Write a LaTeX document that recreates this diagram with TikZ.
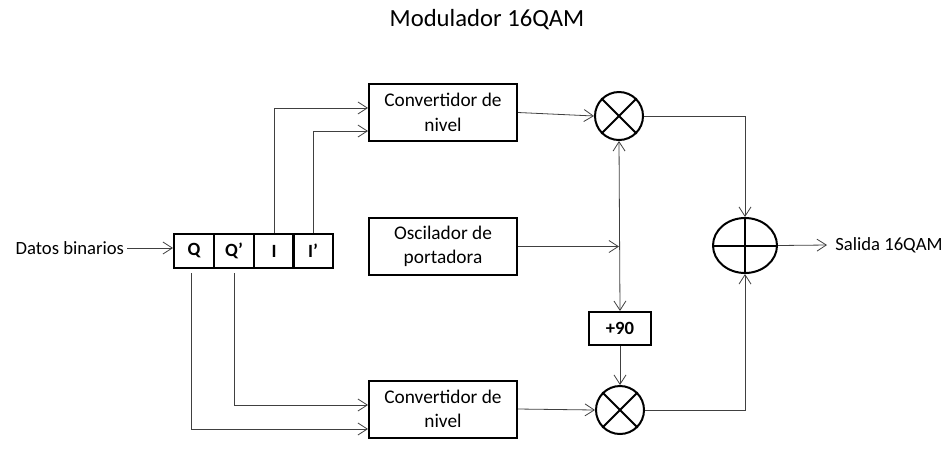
\documentclass[tikz,border=0pt]{standalone}
\usepackage{fontspec}
\setmainfont{Carlito}
\usetikzlibrary{arrows.meta,shapes.geometric}

\tikzset{
	bloque/.style={draw, line width=1.5pt, minimum width=111pt, minimum height=42.75pt, align=center, font=\fontsize{14.5}{18.5}\selectfont},
	celda/.style={draw, line width=1.5pt, minimum width=30pt, minimum height=25.5pt, font=\bfseries\fontsize{14}{16}\selectfont},
	mult/.style={draw, circle, line width=1.5pt, minimum size=36pt, inner sep=0pt},
	flecha/.style={black!75, line width=0.6pt, -{Straight Barb[length=7pt,width=9pt]}},
	doble/.style={black!75, line width=0.6pt, {Straight Barb[length=7pt,width=9pt]}-{Straight Barb[length=7pt,width=9pt]}}
}

\begin{document}
\begin{tikzpicture}[x=0.75pt, y=-0.75pt]
			\useasboundingbox (0,0) rectangle (952,455);
			\node[font=\fontsize{18.5}{22}\selectfont](titulo) at (487,20) {Modulador 16QAM};
			
			% registro de bits
			\node[celda](cQ) at (194,251) {Q};
			\node[celda](cQp) at (234,251) {Q’};
			\node[celda](cI) at (274,251) {I};
			\node[celda](cIp) at (313,251) {I’};
			
			% bloques
			\node[bloque](convI) at (443,112.5) {Convertidor de\\nivel};
			\node[bloque](osc) at (443,246.5) {Oscilador de\\portadora};
			\node[bloque](convQ) at (443,409) {Convertidor de\\nivel};
			\node[draw, line width=1.5pt, minimum width=46.5pt, minimum height=24.75pt, font=\bfseries\fontsize{14}{16}\selectfont](desf) at (620,328.5) {+90};
			
			\node[mult](multI) at (619,116) {};
			\draw[line width=1.5pt](multI.north west)--(multI.south east);
			\draw[line width=1.5pt](multI.north east)--(multI.south west);
			\node[mult](multQ) at (620,410) {};
			\draw[line width=1.5pt](multQ.north west)--(multQ.south east);
			\draw[line width=1.5pt](multQ.north east)--(multQ.south west);
			
			\node[draw, ellipse, line width=1.5pt, minimum width=48pt, minimum height=41.25pt, inner sep=0pt](suma) at (745,245.5) {};
			\draw[line width=1.5pt](suma.north)--(suma.south);
			\draw[line width=1.5pt](suma.west)--(suma.east);
			
			\node[anchor=east, inner sep=2pt, font=\fontsize{14}{16}\selectfont](datos) at (127,248) {Datos binarios};
			\node[anchor=west, inner sep=6pt, font=\fontsize{14}{16}\selectfont](salida) at (827,245) {Salida 16QAM};
			
			% conexiones
			\draw[flecha](datos.east)--(cQ.west |- datos.east);
			\draw[flecha](cI.north) |- ([yshift=3.4pt]convI.west);
			\draw[flecha](cIp.north) |- ([yshift=-13.9pt]convI.west);
			\draw[flecha]([yshift=-3pt]cQp.south) |- ([yshift=3pt]convQ.west);
			\draw[flecha]([xshift=-2pt,yshift=-3pt]cQ.south) |- ([yshift=-15pt]convQ.west);
			
			\draw[flecha](convI.east)--(multI.west);
			\draw[flecha](convQ.east)--(multQ.west);
			\draw[flecha](osc.east)--(osc.east -| multI.south);
			\draw[doble](multI.south)--(desf.north);
			\draw[flecha](desf.south)--(multQ.north);
			\draw[flecha](multI.east) -| (suma.north);
			\draw[flecha](multQ.east) -| (suma.south);
			\draw[flecha](suma.east)--(salida.west);
\end{tikzpicture}
\end{document}
